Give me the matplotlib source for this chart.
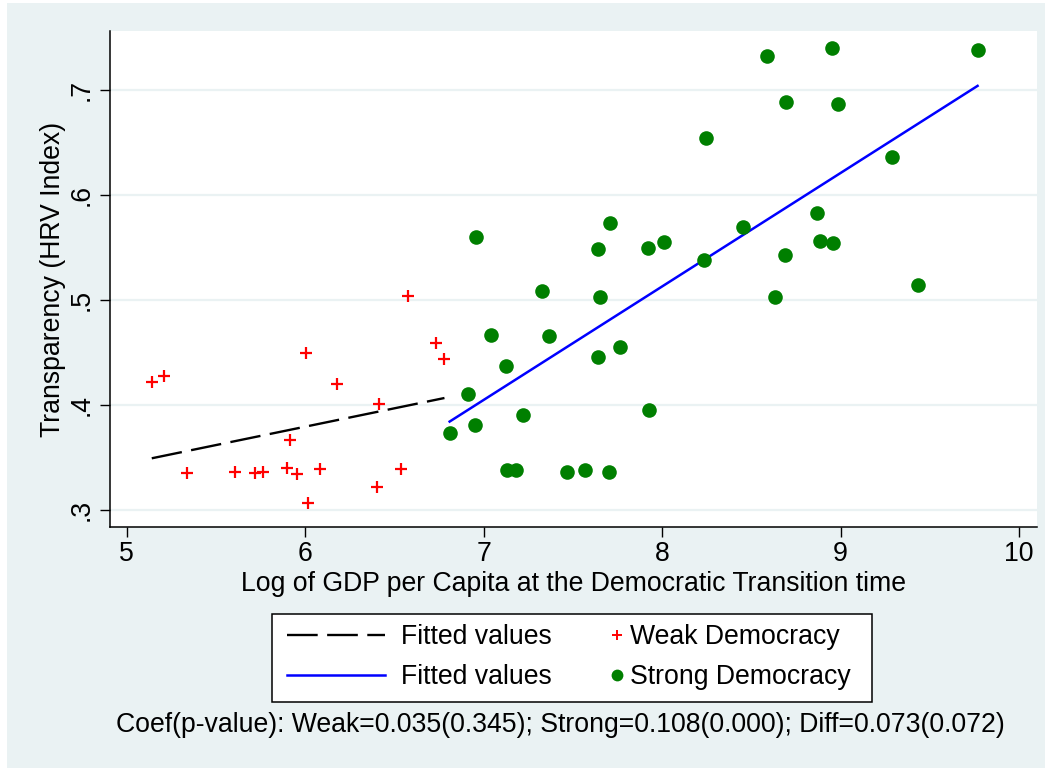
import numpy as np
import matplotlib.pyplot as plt
from matplotlib.lines import Line2D

# Datos
weak_gdp = [5.140, 5.209, 5.336, 5.607, 5.716, 5.763, 5.897, 5.912, 5.953, 6.004,
            6.017, 6.080, 6.179, 6.402, 6.415, 6.537, 6.578, 6.731, 6.780]
weak_hrv = [0.4216, 0.4279, 0.3355, 0.3362, 0.3350, 0.3360, 0.3403, 0.3667, 0.3340, 0.4492,
            0.3070, 0.3390, 0.4197, 0.3222, 0.4010, 0.3390, 0.5041, 0.4587, 0.4435]

strong_gdp = [6.809, 6.912, 6.950, 6.955, 7.043, 7.127, 7.131, 7.180, 7.221, 7.329,
              7.365, 7.464, 7.565, 7.640, 7.640, 7.649, 7.701, 7.705, 7.763, 7.918,
              7.928, 8.010, 8.234, 8.589, 8.952, 9.767, 8.696, 8.985, 8.247, 9.288,
              8.455, 8.866, 8.885, 8.957, 8.686, 8.634, 9.436]
strong_hrv = [0.3736, 0.4105, 0.3807, 0.5603, 0.4670, 0.4374, 0.3381, 0.3381, 0.3902, 0.5083,
              0.4657, 0.3365, 0.3378, 0.4460, 0.5486, 0.5029, 0.3365, 0.5730, 0.4556, 0.5495,
              0.3955, 0.5550, 0.5380, 0.7324, 0.7397, 0.7381, 0.6889, 0.6870, 0.6546, 0.6365,
              0.5698, 0.5829, 0.5559, 0.5540, 0.5426, 0.5032, 0.5143]

x_ticks = [5, 6, 7, 8, 9, 10]
y_ticks = [0.3, 0.4, 0.5, 0.6, 0.7]
y_tick_labels = ['.3', '.4', '.5', '.6', '.7']
nota = "Coef(p-value): Weak=0.035(0.345); Strong=0.108(0.000); Diff=0.073(0.072)"

plt.rcParams['font.family'] = ['Liberation Sans', 'DejaVu Sans']
fondo = '#EAF2F3'
fs = 19.2
W, H = 1049, 771

fig = plt.figure(figsize=(10.49, 7.71), dpi=100)
fig.patch.set_facecolor('white')
# marco azul claro estilo Stata
fig.add_artist(plt.Rectangle((7 / W, 3 / H), 1038 / W, 765 / H,
                             transform=fig.transFigure, facecolor=fondo,
                             edgecolor='none', zorder=-10))

ax = fig.add_axes([110 / W, 1 - 527 / H, 927 / W, 496 / H])
ax.set_facecolor('white')

# ajustes lineales por grupo
wx = np.array(weak_gdp)
wy = np.array(weak_hrv)
sx = np.array(strong_gdp)
sy = np.array(strong_hrv)
bw = np.polyfit(wx, wy, 1)
bs = np.polyfit(sx, sy, 1)
xw = np.array([wx.min(), wx.max()])
xs = np.array([sx.min(), sx.max()])

guion = (0, (13, 4))
ax.plot(xw, np.polyval(bw, xw), color='black', lw=1.7, linestyle=guion, zorder=3)
ax.plot(xs, np.polyval(bs, xs), color='#0000FF', lw=1.8, zorder=3)
ax.plot(wx, wy, linestyle='none', marker='+', color='#FF0000', markersize=9,
        markeredgewidth=1.6, zorder=4)
ax.plot(sx, sy, linestyle='none', marker='o', color='#007F00', markersize=10.5,
        markeredgewidth=0, zorder=4)

ax.set_xlim(4.906, 10.10)
ax.set_ylim(0.2838, 0.7562)
ax.set_xticks(x_ticks)
ax.set_yticks(y_ticks)
ax.set_yticklabels(y_tick_labels, rotation=90, va='center')
ax.tick_params(axis='both', labelsize=fs, length=7, width=1, color='black')
ax.tick_params(axis='x', pad=3)
ax.tick_params(axis='y', pad=4)
ax.grid(axis='y', color=fondo, lw=1.6)
ax.set_axisbelow(True)
for lado in ['top', 'right']:
    ax.spines[lado].set_visible(False)
for lado in ['left', 'bottom']:
    ax.spines[lado].set_linewidth(1.1)

ax.set_xlabel('Log of GDP per Capita at the Democratic Transition time', fontsize=fs, labelpad=3)
ax.set_ylabel('Transparency (HRV Index)', fontsize=fs, labelpad=2)

# leyenda en dos bloques dentro de un mismo marco
fig.add_artist(plt.Rectangle((272 / W, 1 - 702 / H), 600 / W, 88 / H,
                             transform=fig.transFigure, facecolor='white',
                             edgecolor='black', lw=1.1, zorder=5))
h_lineas = [Line2D([], [], color='black', lw=1.7, linestyle=guion),
            Line2D([], [], color='#0000FF', lw=1.8)]
h_puntos = [Line2D([], [], linestyle='none', marker='+', color='#FF0000', markersize=7, markeredgewidth=1.4),
            Line2D([], [], linestyle='none', marker='o', color='#007F00', markersize=8.5, markeredgewidth=0)]
leg1 = fig.legend(h_lineas, ['Fitted values', 'Fitted values'], loc='center left',
                  bbox_to_anchor=(287 / W, 1 - 657 / H), frameon=False, fontsize=fs,
                  borderpad=0, borderaxespad=0, handlelength=3.67, handletextpad=0.62,
                  labelspacing=0.52)
leg2 = fig.legend(h_puntos, ['Weak Democracy', 'Strong Democracy'], loc='center left',
                  bbox_to_anchor=(609 / W, 1 - 657 / H), frameon=False, fontsize=fs,
                  borderpad=0, borderaxespad=0, handlelength=0.6, handletextpad=0.2,
                  labelspacing=0.52)
leg1.set_zorder(6)
leg2.set_zorder(6)

fig.text(560 / W, 1 - 725.5 / H, nota, ha='center', va='center', fontsize=fs)

plt.savefig('out.png', dpi=100)
